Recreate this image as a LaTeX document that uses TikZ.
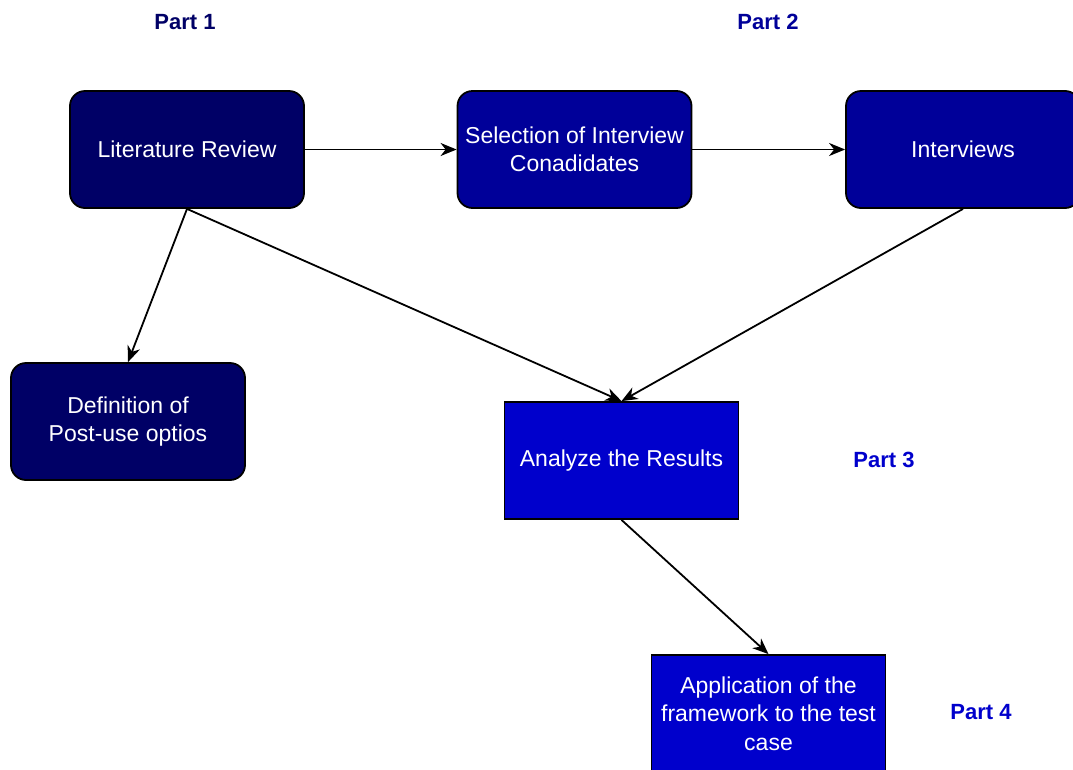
\documentclass[tikz,border=0pt]{standalone}
\usepackage{fontspec}
\setmainfont{Liberation Sans}
\usetikzlibrary{arrows.meta}
\definecolor{navyA}{HTML}{000066}
\definecolor{navyB}{HTML}{000099}
\definecolor{navyC}{HTML}{0000CC}
\begin{document}
\begin{tikzpicture}[x=1pt,y=-1pt,
  box/.style={draw=black,line width=1.8pt,text=white,align=center,
    minimum width=234pt,minimum height=117pt,inner sep=2pt,
    font=\fontsize{23}{28.5}\selectfont},
  rbox/.style={box,rounded corners=15pt},
  part/.style={font=\fontsize{22}{26}\selectfont\bfseries},
  link/.style={line width=1.8pt,-{Stealth[length=16pt,width=13pt,inset=5pt]}}]
\useasboundingbox (0,0) rectangle (1073,769);
% Part labels
\node[part,text=navyA] (p1) at (185,22) {Part 1};
\node[part,text=navyB] (p2) at (768,22) {Part 2};
\node[part,text=navyC] (p3) at (884,460) {Part 3};
\node[part,text=navyC] (p4) at (981,712) {Part 4};
% Process steps
\node[rbox,fill=navyA] (lit) at (187,149.5) {Literature Review};
\node[rbox,fill=navyB] (sel) at (574.5,149.5) {Selection of Interview\\Conadidates};
\node[rbox,fill=navyB] (int) at (963,149.5) {Interviews};
\node[rbox,fill=navyA] (def) at (128,421.5) {Definition of\\Post-use optios};
\node[box,fill=navyC] (ana) at (621.5,460.5) {Analyze the Results};
\node[box,fill=navyC] (app) at (768.5,713.5) {Application of the\\framework to the test\\case};
% Connectors
\draw[link] (lit.east) -- (sel.west);
\draw[link] (sel.east) -- (int.west);
\draw[link] (lit.south) -- (def.north);
\draw[link] (lit.south) -- (ana.north);
\draw[link] (int.south) -- (ana.north);
\draw[link] (ana.south) -- (app.north);
\end{tikzpicture}
\end{document}
